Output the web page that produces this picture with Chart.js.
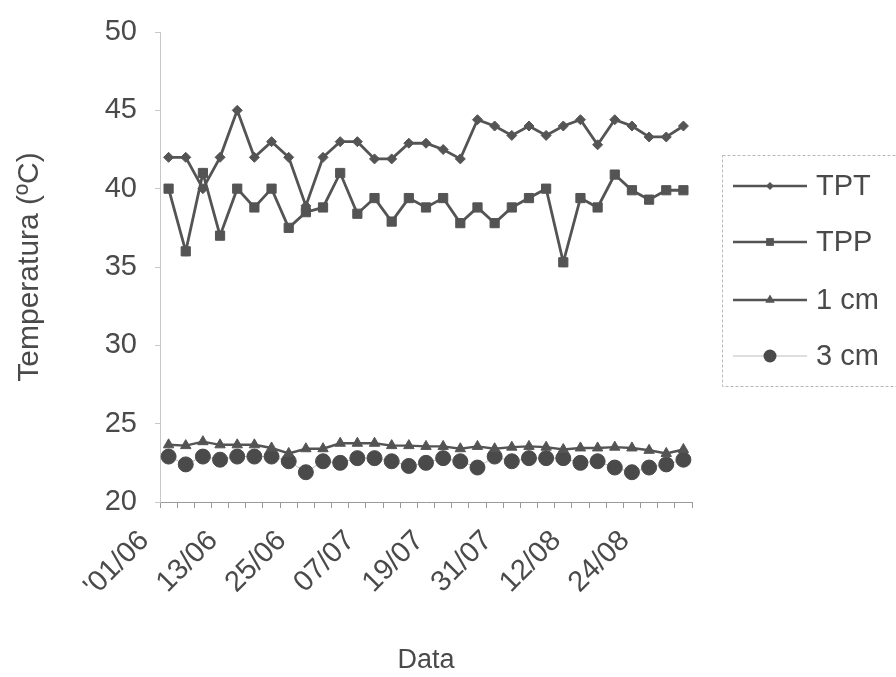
<!DOCTYPE html>
<html>
<head>
<meta charset="utf-8">
<script src="https://cdn.jsdelivr.net/npm/chart.js@4/dist/chart.umd.min.js"></script>
<style>
  html, body { margin: 0; padding: 0; background: #ffffff; }
  #wrap { width: 896px; height: 677px; position: relative; }
</style>
</head>
<body>
<div id="wrap"><canvas id="c"></canvas></div>
<script>
// ---- data ----
const categories = ["'01/06","04/06","07/06","10/06","13/06","16/06","19/06","22/06","25/06","28/06",
  "01/07","04/07","07/07","10/07","13/07","16/07","19/07","22/07","25/07","28/07",
  "31/07","03/08","06/08","09/08","12/08","15/08","18/08","21/08","24/08","27/08","30/08"];
const shownTicks = ["'01/06","13/06","25/06","07/07","19/07","31/07","12/08","24/08"];
const seriesNames = ["TPT","TPP","1 cm","3 cm"];
const tpt = [42,42,40,42,45,42,43,42,38.9,42,43,43,41.9,41.9,42.9,42.9,42.5,41.9,44.4,44,43.4,44,43.4,44,44.4,42.8,44.4,44,43.3,43.3,44];
const tpp = [40,36,41,37,40,38.8,40,37.5,38.5,38.8,41,38.4,39.4,37.9,39.4,38.8,39.4,37.8,38.8,37.8,38.8,39.4,40,35.3,39.4,38.8,40.9,39.9,39.3,39.9,39.9];
const cm1 = [23.65,23.6,23.85,23.65,23.65,23.65,23.45,23.1,23.4,23.4,23.75,23.75,23.75,23.6,23.6,23.55,23.55,23.4,23.55,23.4,23.5,23.55,23.5,23.35,23.45,23.45,23.5,23.45,23.3,23.1,23.35];
const cm3 = [22.9,22.4,22.9,22.7,22.9,22.9,22.9,22.6,21.9,22.6,22.5,22.8,22.8,22.6,22.3,22.5,22.8,22.6,22.2,22.9,22.6,22.8,22.8,22.8,22.5,22.6,22.2,21.9,22.2,22.4,22.7];
const yTicks = [20,25,30,35,40,45,50];

const FONT = "'Liberation Sans', Arial, sans-serif";
const TXT = '#4a4a4a';
const DARK = '#545454';

function drawMarker(ctx, style, x, y, r, fill) {
  ctx.save();
  ctx.fillStyle = fill;
  ctx.beginPath();
  if (style === 'rectRot') {
    ctx.moveTo(x, y - r); ctx.lineTo(x + r, y); ctx.lineTo(x, y + r); ctx.lineTo(x - r, y);
  } else if (style === 'rect') {
    const s = r * Math.SQRT1_2; ctx.rect(x - s, y - s, 2 * s, 2 * s);
  } else if (style === 'triangle') {
    ctx.moveTo(x, y - r); ctx.lineTo(x + r * 0.866, y + r * 0.5); ctx.lineTo(x - r * 0.866, y + r * 0.5);
  } else {
    ctx.arc(x, y, r, 0, Math.PI * 2);
  }
  ctx.closePath();
  ctx.fill();
  ctx.restore();
}

const legendPlugin = {
  id: 'boxLegend',
  afterDraw(chart) {
    const ctx = chart.ctx;
    ctx.save();
    ctx.strokeStyle = '#b8b8b8';
    ctx.lineWidth = 1;
    ctx.setLineDash([3, 2]);
    ctx.strokeRect(722.5, 155.5, 180, 231);
    ctx.setLineDash([]);
    const ys = [186, 242, 300, 356];
    chart.data.datasets.forEach((ds, i) => {
      const y = ys[i];
      ctx.strokeStyle = ds.borderColor;
      ctx.lineWidth = ds.legendLineWidth;
      ctx.beginPath(); ctx.moveTo(733, y); ctx.lineTo(807, y); ctx.stroke();
      drawMarker(ctx, ds.pointStyle, 770, y, ds.legendRadius, ds.pointBackgroundColor);
      ctx.fillStyle = TXT;
      ctx.font = '29px ' + FONT;
      ctx.textBaseline = 'middle';
      ctx.textAlign = 'left';
      ctx.fillText(ds.label, 816, y + 1);
    });
    ctx.restore();
  }
};

new Chart(document.getElementById('c'), {
  type: 'line',
  data: {
    labels: categories,
    datasets: [
      { label: seriesNames[0], data: tpt, borderColor: DARK, borderWidth: 2.8, pointStyle: 'rectRot',
        pointRadius: 5, pointBackgroundColor: DARK, pointBorderColor: DARK, pointBorderWidth: 1,
        legendLineWidth: 2.4, legendRadius: 4, tension: 0 },
      { label: seriesNames[1], data: tpp, borderColor: DARK, borderWidth: 2.8, pointStyle: 'rect',
        pointRadius: 6.5, pointBackgroundColor: DARK, pointBorderColor: DARK, pointBorderWidth: 1,
        legendLineWidth: 2.4, legendRadius: 5.5, tension: 0 },
      { label: seriesNames[2], data: cm1, borderColor: DARK, borderWidth: 2.4, pointStyle: 'triangle',
        pointRadius: 6, pointBackgroundColor: DARK, pointBorderColor: DARK, pointBorderWidth: 1,
        legendLineWidth: 2.4, legendRadius: 5.5, tension: 0 },
      { label: seriesNames[3], data: cm3, borderColor: '#bdbdbd', borderWidth: 1, pointStyle: 'circle',
        pointRadius: 7.5, pointBackgroundColor: '#4a4a4a', pointBorderColor: '#4a4a4a', pointBorderWidth: 1,
        legendLineWidth: 1, legendRadius: 6.5, tension: 0 }
    ]
  },
  options: {
    responsive: true,
    maintainAspectRatio: false,
    animation: false,
    devicePixelRatio: 1,
    layout: { padding: { top: 32, right: 204, left: 0, bottom: 0 } },
    plugins: { legend: { display: false }, tooltip: { enabled: false } },
    scales: {
      x: {
        type: 'category',
        offset: true,
        grid: { display: true, drawOnChartArea: false, offset: true, tickLength: 6, color: '#9a9a9a', lineWidth: 1 },
        border: { display: true, color: '#9a9a9a', width: 1 },
        ticks: {
          autoSkip: false, maxRotation: 45, minRotation: 45, padding: 16, labelOffset: -24,
          color: TXT, font: { family: FONT, size: 29 },
          callback: function (v, i) { const l = categories[i]; return shownTicks.includes(l) ? l : ''; }
        },
        title: { display: true, text: 'Data', color: TXT, font: { family: FONT, size: 27 }, padding: { top: 0, bottom: 0 } },
        afterFit: function (s) { s.height = 175; s.paddingLeft = 0; s.paddingRight = 0; }
      },
      y: {
        min: 20, max: 50,
        afterBuildTicks: function (s) { s.ticks = yTicks.map(v => ({ value: v })); },
        grid: { display: true, drawOnChartArea: false, tickLength: 5, color: '#c8c8c8' },
        border: { display: true, color: '#c8c8c8', width: 1 },
        ticks: { color: TXT, font: { family: FONT, size: 29 }, padding: 18 },
        title: { display: true, text: 'Temperatura (ºC)', color: TXT, font: { family: FONT, size: 30 }, padding: { top: 12, bottom: 0 } },
        afterFit: function (s) { s.width = 160; s.paddingTop = 0; s.paddingBottom = 0; }
      }
    }
  },
  plugins: [legendPlugin]
});
</script>
</body>
</html>
